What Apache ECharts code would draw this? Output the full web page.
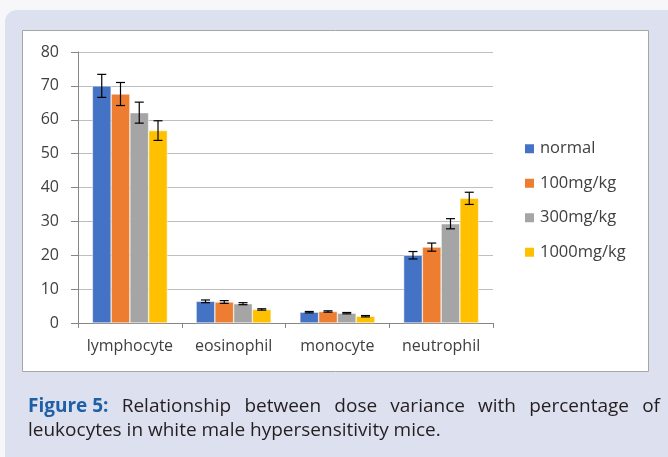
<!DOCTYPE html>
<html><head><meta charset="utf-8">
<script src="https://cdn.jsdelivr.net/npm/echarts@6/dist/echarts.min.js"></script>
<style>html,body{margin:0;padding:0;background:#f7f7fa}#c{width:668px;height:457px}</style>
</head><body><div id="c"></div>
<script>
const categories = ['lymphocyte', 'eosinophil', 'monocyte', 'neutrophil'];
const seriesNames = ['normal', '100mg/kg', '300mg/kg', '1000mg/kg'];
const normalVals = [70.0, 6.4, 3.2, 20.0];
const dose100Vals = [67.6, 6.2, 3.4, 22.4];
const dose300Vals = [62.1, 5.7, 2.9, 29.3];
const dose1000Vals = [56.8, 4.0, 2.0, 36.8];
const normalErr = [3.4, 0.4, 0.2, 1.1];
const dose100Err = [3.4, 0.4, 0.2, 1.2];
const dose300Err = [3.1, 0.3, 0.2, 1.5];
const dose1000Err = [2.9, 0.2, 0.2, 1.8];
const yTicks = [0, 10, 20, 30, 40, 50, 60, 70, 80];
const captionLabel = 'Figure 5:';
const captionLine1 = 'Relationship between dose variance with percentage of';
const captionLine2 = 'leukocytes in white male hypersensitivity mice.';

const colors = ['#4472C4', '#ED7D31', '#A5A5A5', '#FFC000'];
const allVals = [normalVals, dose100Vals, dose300Vals, dose1000Vals];
const allErr = [normalErr, dose100Err, dose300Err, dose1000Err];
const catGap = 0.277;

// justified caption line 1
const capFont = 19;
const capFam = 'Open Sans';
const cv = document.createElement('canvas').getContext('2d');
const words = [{ t: captionLabel, b: true }].concat(captionLine1.split(' ').map(w => ({ t: w, b: false })));
const widths = words.map(w => { cv.font = (w.b ? 'bold ' : '') + capFont + 'px "' + capFam + '"'; return cv.measureText(w.t).width; });
const lineStart = 28, lineEnd = 660;
const totalW = widths.reduce((a, b) => a + b, 0);
const gap = (lineEnd - lineStart - totalW) / (words.length - 1);
const capGraphics = [];
let cx = lineStart;
words.forEach((w, i) => {
  capGraphics.push({ type: 'text', x: cx, y: 407, style: {
    text: w.t, fontFamily: capFam, fontSize: capFont, fontWeight: w.b ? 'bold' : 'normal',
    fill: w.b ? '#1f5fa6' : '#231f20', verticalAlign: 'middle', align: 'left' } });
  cx += widths[i] + gap;
});
capGraphics.push({ type: 'text', x: lineStart, y: 431, style: {
  text: captionLine2, fontFamily: capFam, fontSize: capFont, fill: '#231f20', verticalAlign: 'middle', align: 'left' } });

const chart = echarts.init(document.getElementById('c'));
const barSeries = seriesNames.map((n, i) => ({
  name: n, type: 'bar', data: allVals[i], barGap: '0%', barCategoryGap: (catGap*100)+'%',
  itemStyle: { color: colors[i], borderColor: '#ffffff', borderWidth: 0.5 }
}));
const errData = [];
allVals.forEach((vals, s) => vals.forEach((v, c) => errData.push([c, v - allErr[s][c], v + allErr[s][c], s])));
const errSeries = {
  type: 'custom', data: errData, z: 10, silent: true,
  encode: { x: 0, y: [1, 2] },
  renderItem: function (params, api) {
    const c = api.value(0), lo = api.value(1), hi = api.value(2), s = api.value(3);
    const band = api.size([1, 0])[0];
    const bw = band * (1 - catGap) / 4;
    const center = api.coord([c, 0])[0];
    const x = center - 2 * bw + (s + 0.5) * bw;
    const yl = api.coord([c, lo])[1], yh = api.coord([c, hi])[1];
    const cap = 4.5;
    const st = { stroke: '#000', lineWidth: 1.2 };
    return { type: 'group', children: [
      { type: 'line', shape: { x1: x, y1: yl, x2: x, y2: yh }, style: st },
      { type: 'line', shape: { x1: x - cap, y1: yl, x2: x + cap, y2: yl }, style: st },
      { type: 'line', shape: { x1: x - cap, y1: yh, x2: x + cap, y2: yh }, style: st }
    ]};
  }
};

chart.setOption({
  animation: false,
  textStyle: { fontFamily: 'Open Sans' },
  graphic: [
    { type: 'rect', shape: { x: 5, y: 10, width: 680, height: 460, r: [12, 0, 0, 0] }, style: { fill: '#dde0ef' }, z: -10 },
    { type: 'rect', shape: { x: 22.5, y: 30.5, width: 626, height: 341 }, style: { fill: '#fff', stroke: '#a6a6a6', lineWidth: 1 }, z: -9 }
  ].concat(capGraphics),
  legend: {
    orient: 'vertical', left: 518, top: 135, itemGap: 17, itemWidth: 11, itemHeight: 11,
    icon: 'rect', textStyle: { fontSize: 16.5, lineHeight: 17.5, color: '#404040', fontFamily: 'Open Sans' },
    data: seriesNames
  },
  grid: { left: 78, right: 175, top: 52, bottom: 134 },
  xAxis: {
    type: 'category', data: categories,
    axisLine: { lineStyle: { color: '#868686' } },
    axisTick: { show: true, length: 5, lineStyle: { color: '#868686' } },
    axisLabel: { interval: 0, fontSize: 16, color: '#404040', margin: 15, fontFamily: 'Open Sans' }
  },
  yAxis: {
    type: 'value', min: 0, max: 80, interval: 10,
    axisLine: { show: true, lineStyle: { color: '#868686' } },
    axisTick: { show: true, length: 7, lineStyle: { color: '#868686' } },
    axisLabel: { fontSize: 16, color: '#404040', margin: 19, fontFamily: 'Open Sans',
      formatter: v => yTicks.includes(v) ? String(v) : '' },
    splitLine: { lineStyle: { color: '#bfbfbf', width: 1 } }
  },
  series: [...barSeries, errSeries]
});
</script></body></html>
